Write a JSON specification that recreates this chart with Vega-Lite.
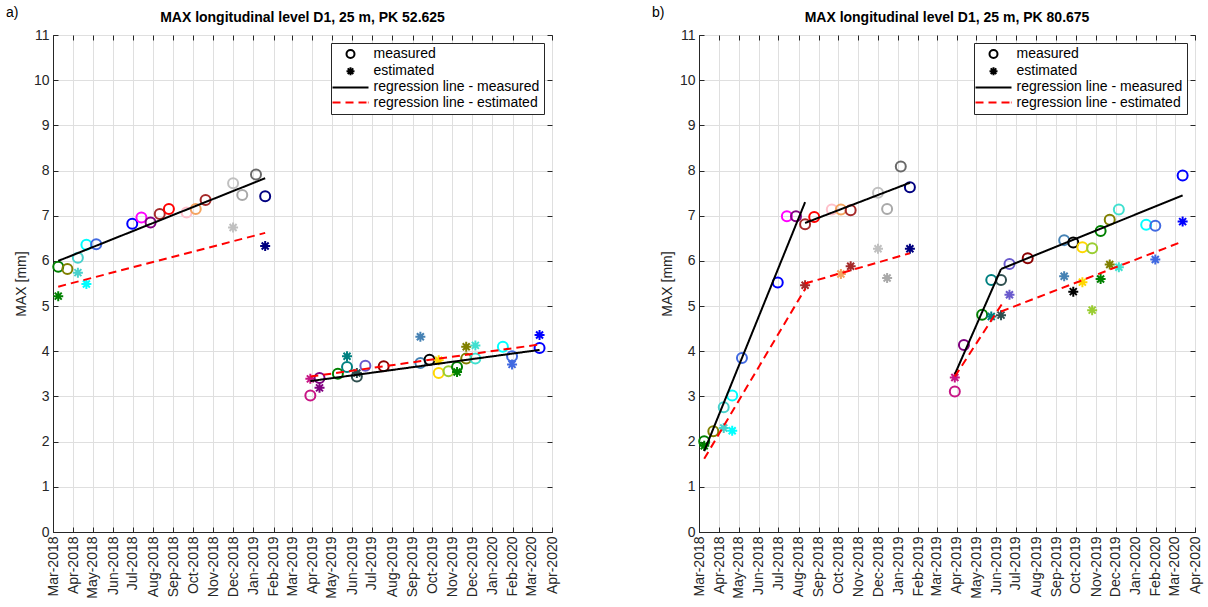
{
  "$schema": "https://vega.github.io/schema/vega-lite/v6.json",
  "background": "white",
  "padding": 5,
  "datasets": {
    "a_pts": [
      {"d": "2018-03-09", "v": 5.87, "kind": "measured", "c": "green"},
      {"d": "2018-03-09", "v": 5.22, "kind": "estimated", "c": "green"},
      {"d": "2018-03-23", "v": 5.82, "kind": "measured", "c": "olive"},
      {"d": "2018-04-08", "v": 6.07, "kind": "measured", "c": "mediumturquoise"},
      {"d": "2018-04-08", "v": 5.74, "kind": "estimated", "c": "mediumturquoise"},
      {"d": "2018-04-21", "v": 6.36, "kind": "measured", "c": "cyan"},
      {"d": "2018-04-21", "v": 5.49, "kind": "estimated", "c": "cyan"},
      {"d": "2018-05-06", "v": 6.37, "kind": "measured", "c": "royalblue"},
      {"d": "2018-06-30", "v": 6.82, "kind": "measured", "c": "blue"},
      {"d": "2018-07-14", "v": 6.96, "kind": "measured", "c": "magenta"},
      {"d": "2018-07-28", "v": 6.85, "kind": "measured", "c": "purple"},
      {"d": "2018-08-11", "v": 7.04, "kind": "measured", "c": "brown"},
      {"d": "2018-08-25", "v": 7.15, "kind": "measured", "c": "red"},
      {"d": "2018-09-21", "v": 7.07, "kind": "measured", "c": "pink"},
      {"d": "2018-10-05", "v": 7.15, "kind": "measured", "c": "sandybrown"},
      {"d": "2018-10-20", "v": 7.35, "kind": "measured", "c": "brown"},
      {"d": "2018-12-01", "v": 7.72, "kind": "measured", "c": "silver"},
      {"d": "2018-12-01", "v": 6.74, "kind": "estimated", "c": "silver"},
      {"d": "2018-12-15", "v": 7.46, "kind": "measured", "c": "darkgray"},
      {"d": "2019-01-05", "v": 7.91, "kind": "measured", "c": "dimgray"},
      {"d": "2019-01-19", "v": 7.43, "kind": "measured", "c": "navy"},
      {"d": "2019-01-19", "v": 6.33, "kind": "estimated", "c": "navy"},
      {"d": "2019-03-29", "v": 3.02, "kind": "measured", "c": "mediumvioletred"},
      {"d": "2019-03-29", "v": 3.39, "kind": "estimated", "c": "mediumvioletred"},
      {"d": "2019-04-12", "v": 3.41, "kind": "measured", "c": "purple"},
      {"d": "2019-04-12", "v": 3.19, "kind": "estimated", "c": "purple"},
      {"d": "2019-05-10", "v": 3.50, "kind": "measured", "c": "green"},
      {"d": "2019-05-24", "v": 3.65, "kind": "measured", "c": "teal"},
      {"d": "2019-05-24", "v": 3.89, "kind": "estimated", "c": "teal"},
      {"d": "2019-06-08", "v": 3.44, "kind": "measured", "c": "darkslategray"},
      {"d": "2019-06-08", "v": 3.52, "kind": "estimated", "c": "darkslategray"},
      {"d": "2019-06-21", "v": 3.68, "kind": "measured", "c": "slateblue"},
      {"d": "2019-07-19", "v": 3.67, "kind": "measured", "c": "darkred"},
      {"d": "2019-09-13", "v": 3.74, "kind": "measured", "c": "steelblue"},
      {"d": "2019-09-13", "v": 4.32, "kind": "estimated", "c": "steelblue"},
      {"d": "2019-09-27", "v": 3.81, "kind": "measured", "c": "black"},
      {"d": "2019-10-11", "v": 3.52, "kind": "measured", "c": "gold"},
      {"d": "2019-10-11", "v": 3.80, "kind": "estimated", "c": "gold"},
      {"d": "2019-10-26", "v": 3.56, "kind": "measured", "c": "yellowgreen"},
      {"d": "2019-11-08", "v": 3.65, "kind": "measured", "c": "green"},
      {"d": "2019-11-08", "v": 3.54, "kind": "estimated", "c": "green"},
      {"d": "2019-11-22", "v": 3.84, "kind": "measured", "c": "olive"},
      {"d": "2019-11-22", "v": 4.10, "kind": "estimated", "c": "olive"},
      {"d": "2019-12-06", "v": 3.84, "kind": "measured", "c": "turquoise"},
      {"d": "2019-12-06", "v": 4.13, "kind": "estimated", "c": "turquoise"},
      {"d": "2020-01-17", "v": 4.10, "kind": "measured", "c": "cyan"},
      {"d": "2020-01-31", "v": 3.89, "kind": "measured", "c": "royalblue"},
      {"d": "2020-01-31", "v": 3.71, "kind": "estimated", "c": "royalblue"},
      {"d": "2020-03-13", "v": 4.07, "kind": "measured", "c": "blue"},
      {"d": "2020-03-13", "v": 4.36, "kind": "estimated", "c": "blue"}
    ],
    "a_lines": [
      {"d": "2018-03-09", "v": 6.00, "kind": "regression line - measured", "seg": "m1"},
      {"d": "2019-01-19", "v": 7.83, "kind": "regression line - measured", "seg": "m1"},
      {"d": "2018-03-09", "v": 5.43, "kind": "regression line - estimated", "seg": "e1"},
      {"d": "2019-01-19", "v": 6.62, "kind": "regression line - estimated", "seg": "e1"},
      {"d": "2019-03-29", "v": 3.34, "kind": "regression line - measured", "seg": "m2"},
      {"d": "2020-03-13", "v": 4.03, "kind": "regression line - measured", "seg": "m2"},
      {"d": "2019-03-29", "v": 3.44, "kind": "regression line - estimated", "seg": "e2"},
      {"d": "2020-03-13", "v": 4.15, "kind": "regression line - estimated", "seg": "e2"}
    ],
    "b_pts": [
      {"d": "2018-03-09", "v": 2.01, "kind": "measured", "c": "green"},
      {"d": "2018-03-09", "v": 1.91, "kind": "estimated", "c": "green"},
      {"d": "2018-03-23", "v": 2.23, "kind": "measured", "c": "olive"},
      {"d": "2018-04-08", "v": 2.76, "kind": "measured", "c": "mediumturquoise"},
      {"d": "2018-04-08", "v": 2.30, "kind": "estimated", "c": "mediumturquoise"},
      {"d": "2018-04-21", "v": 3.02, "kind": "measured", "c": "cyan"},
      {"d": "2018-04-21", "v": 2.24, "kind": "estimated", "c": "cyan"},
      {"d": "2018-05-06", "v": 3.85, "kind": "measured", "c": "royalblue"},
      {"d": "2018-06-30", "v": 5.52, "kind": "measured", "c": "blue"},
      {"d": "2018-07-14", "v": 6.99, "kind": "measured", "c": "magenta"},
      {"d": "2018-07-28", "v": 6.99, "kind": "measured", "c": "purple"},
      {"d": "2018-08-11", "v": 6.81, "kind": "measured", "c": "brown"},
      {"d": "2018-08-11", "v": 5.46, "kind": "estimated", "c": "brown"},
      {"d": "2018-08-25", "v": 6.97, "kind": "measured", "c": "red"},
      {"d": "2018-09-21", "v": 7.14, "kind": "measured", "c": "pink"},
      {"d": "2018-10-05", "v": 7.14, "kind": "measured", "c": "sandybrown"},
      {"d": "2018-10-05", "v": 5.71, "kind": "estimated", "c": "sandybrown"},
      {"d": "2018-10-20", "v": 7.12, "kind": "measured", "c": "brown"},
      {"d": "2018-10-20", "v": 5.88, "kind": "estimated", "c": "brown"},
      {"d": "2018-12-01", "v": 7.51, "kind": "measured", "c": "silver"},
      {"d": "2018-12-01", "v": 6.27, "kind": "estimated", "c": "silver"},
      {"d": "2018-12-15", "v": 7.15, "kind": "measured", "c": "darkgray"},
      {"d": "2018-12-15", "v": 5.62, "kind": "estimated", "c": "darkgray"},
      {"d": "2019-01-05", "v": 8.09, "kind": "measured", "c": "dimgray"},
      {"d": "2019-01-19", "v": 7.63, "kind": "measured", "c": "navy"},
      {"d": "2019-01-19", "v": 6.27, "kind": "estimated", "c": "navy"},
      {"d": "2019-03-29", "v": 3.11, "kind": "measured", "c": "mediumvioletred"},
      {"d": "2019-03-29", "v": 3.42, "kind": "estimated", "c": "mediumvioletred"},
      {"d": "2019-04-12", "v": 4.14, "kind": "measured", "c": "purple"},
      {"d": "2019-05-10", "v": 4.81, "kind": "measured", "c": "green"},
      {"d": "2019-05-24", "v": 5.58, "kind": "measured", "c": "teal"},
      {"d": "2019-05-24", "v": 4.77, "kind": "estimated", "c": "teal"},
      {"d": "2019-06-08", "v": 5.58, "kind": "measured", "c": "darkslategray"},
      {"d": "2019-06-08", "v": 4.80, "kind": "estimated", "c": "darkslategray"},
      {"d": "2019-06-21", "v": 5.93, "kind": "measured", "c": "slateblue"},
      {"d": "2019-06-21", "v": 5.25, "kind": "estimated", "c": "slateblue"},
      {"d": "2019-07-19", "v": 6.06, "kind": "measured", "c": "darkred"},
      {"d": "2019-09-13", "v": 6.46, "kind": "measured", "c": "steelblue"},
      {"d": "2019-09-13", "v": 5.66, "kind": "estimated", "c": "steelblue"},
      {"d": "2019-09-27", "v": 6.41, "kind": "measured", "c": "black"},
      {"d": "2019-09-27", "v": 5.32, "kind": "estimated", "c": "black"},
      {"d": "2019-10-11", "v": 6.30, "kind": "measured", "c": "gold"},
      {"d": "2019-10-11", "v": 5.53, "kind": "estimated", "c": "gold"},
      {"d": "2019-10-26", "v": 6.28, "kind": "measured", "c": "yellowgreen"},
      {"d": "2019-10-26", "v": 4.91, "kind": "estimated", "c": "yellowgreen"},
      {"d": "2019-11-08", "v": 6.66, "kind": "measured", "c": "green"},
      {"d": "2019-11-08", "v": 5.60, "kind": "estimated", "c": "green"},
      {"d": "2019-11-22", "v": 6.91, "kind": "measured", "c": "olive"},
      {"d": "2019-11-22", "v": 5.92, "kind": "estimated", "c": "olive"},
      {"d": "2019-12-06", "v": 7.14, "kind": "measured", "c": "turquoise"},
      {"d": "2019-12-06", "v": 5.86, "kind": "estimated", "c": "turquoise"},
      {"d": "2020-01-17", "v": 6.80, "kind": "measured", "c": "cyan"},
      {"d": "2020-01-31", "v": 6.78, "kind": "measured", "c": "royalblue"},
      {"d": "2020-01-31", "v": 6.03, "kind": "estimated", "c": "royalblue"},
      {"d": "2020-03-13", "v": 7.89, "kind": "measured", "c": "blue"},
      {"d": "2020-03-13", "v": 6.87, "kind": "estimated", "c": "blue"}
    ],
    "b_lines": [
      {"d": "2018-03-09", "v": 1.79, "kind": "regression line - measured", "seg": "m1"},
      {"d": "2018-08-11", "v": 7.30, "kind": "regression line - measured", "seg": "m1"},
      {"d": "2018-08-11", "v": 6.84, "kind": "regression line - measured", "seg": "m2"},
      {"d": "2019-01-19", "v": 7.73, "kind": "regression line - measured", "seg": "m2"},
      {"d": "2018-03-09", "v": 1.62, "kind": "regression line - estimated", "seg": "e1"},
      {"d": "2018-08-11", "v": 5.38, "kind": "regression line - estimated", "seg": "e1"},
      {"d": "2018-08-11", "v": 5.50, "kind": "regression line - estimated", "seg": "e2"},
      {"d": "2019-01-19", "v": 6.17, "kind": "regression line - estimated", "seg": "e2"},
      {"d": "2019-03-29", "v": 3.49, "kind": "regression line - measured", "seg": "m3"},
      {"d": "2019-06-08", "v": 5.82, "kind": "regression line - measured", "seg": "m3"},
      {"d": "2019-06-08", "v": 5.82, "kind": "regression line - measured", "seg": "m4"},
      {"d": "2020-03-13", "v": 7.45, "kind": "regression line - measured", "seg": "m4"},
      {"d": "2019-03-29", "v": 3.44, "kind": "regression line - estimated", "seg": "e3"},
      {"d": "2019-06-10", "v": 5.06, "kind": "regression line - estimated", "seg": "e3"},
      {"d": "2019-06-08", "v": 4.88, "kind": "regression line - estimated", "seg": "e4"},
      {"d": "2020-03-13", "v": 6.43, "kind": "regression line - estimated", "seg": "e4"}
    ]
  },
  "hconcat": [
    {
      "title": {"text": "a)", "anchor": "start", "offset": -9, "dx": -8, "fontSize": 14, "fontWeight": "normal", "color": "black"},
      "resolve": {"scale": {"shape": "independent", "color": "independent"}, "legend": {"shape": "independent", "color": "independent"}},
      "vconcat": [
        {
          "width": 499,
          "height": 497,
          "title": {"text": "MAX longitudinal level D1, 25 m, PK 52.625", "offset": 3},
          "layer": [
            {
              "data": {"name": "a_pts"},
              "mark": {"type": "point", "filled": false, "strokeWidth": 2, "opacity": 1},
              "encoding": {
                "x": {"field": "d", "type": "temporal", "scale": {"type": "utc", "domain": [{"year": 2018, "month": 3, "date": 1, "utc": true}, {"year": 2020, "month": 4, "date": 1, "utc": true}]}, "axis": {"orient": "bottom", "title": null, "format": "%b-%Y", "labelAngle": -90, "tickCount": {"interval": "month", "step": 1}, "grid": true}},
                "y": {"field": "v", "type": "quantitative", "scale": {"domain": [0, 11], "nice": false}, "axis": {"orient": "left", "title": "MAX [mm]", "values": [0,1,2,3,4,5,6,7,8,9,10,11], "grid": true}},
                "shape": {"field": "kind", "type": "nominal",
                  "scale": {"domain": ["measured", "estimated", "regression line - measured", "regression line - estimated"],
                            "range": ["circle", "M-1,0H1M0,-1V1M-0.7,-0.7L0.7,0.7M-0.7,0.7L0.7,-0.7", "M-4.5,0H4.5", "M-4.5,0H-2.5M-1.25,0H0.75M2,0H4M4.35,0H4.5"]},
                  "legend": {"orient": "top-right", "offset": 8, "title": null, "fillColor": "white", "strokeColor": "#262626", "padding": 4, "labelFontSize": 14, "labelLimit": 400, "labelFont": "Liberation Sans", "labelColor": "black", "symbolSize": 64, "symbolStrokeWidth": 2, "symbolOffset": 8.5, "labelOffset": 16, "rowPadding": 1.2, "symbolStrokeColor": {"expr": "datum.value === 'regression line - estimated' ? 'red' : 'black'"}}},
                "color": {"field": "kind", "type": "nominal",
                  "scale": {"domain": ["measured", "estimated", "regression line - measured", "regression line - estimated"], "range": ["black", "black", "black", "red"]},
                  "legend": {"orient": "top-right", "offset": 8, "title": null, "fillColor": "white", "strokeColor": "#262626", "padding": 4, "labelFontSize": 14, "labelLimit": 400, "labelFont": "Liberation Sans", "labelColor": "black", "symbolSize": 64, "symbolStrokeWidth": 2, "symbolOffset": 8.5, "labelOffset": 16, "rowPadding": 1.2, "symbolStrokeColor": {"expr": "datum.value === 'regression line - estimated' ? 'red' : 'black'"}}},
                "stroke": {"field": "c", "type": "nominal", "scale": null},
                "size": {"value": 100}
              }
            },
            {
              "data": {"name": "a_lines"},
              "mark": {"type": "line", "strokeWidth": 2},
              "encoding": {
                "x": {"field": "d", "type": "temporal", "axis": {"orient": "top", "labels": false, "title": null, "grid": false, "domain": false, "tickCount": {"interval": "month", "step": 1}}},
                "y": {"field": "v", "type": "quantitative", "axis": {"orient": "right", "labels": false, "title": null, "grid": false, "domain": false, "values": [0,1,2,3,4,5,6,7,8,9,10,11]}},
                "detail": {"field": "seg", "type": "nominal"},
                "stroke": {"condition": {"test": "datum.kind === 'regression line - estimated'", "value": "red"}, "value": "black"},
                "strokeDash": {"condition": {"test": "datum.kind === 'regression line - estimated'", "value": [8, 5]}, "value": [1, 0]}
              }
            }
          ]
        }
      ]
    },
    {
      "title": {"text": "b)", "anchor": "start", "offset": -9, "dx": -8, "fontSize": 14, "fontWeight": "normal", "color": "black"},
      "resolve": {"scale": {"shape": "independent", "color": "independent"}, "legend": {"shape": "independent", "color": "independent"}},
      "vconcat": [
        {
          "width": 496,
          "height": 497,
          "title": {"text": "MAX longitudinal level D1, 25 m, PK 80.675", "offset": 3},
          "layer": [
            {
              "data": {"name": "b_pts"},
              "mark": {"type": "point", "filled": false, "strokeWidth": 2, "opacity": 1},
              "encoding": {
                "x": {"field": "d", "type": "temporal", "scale": {"type": "utc", "domain": [{"year": 2018, "month": 3, "date": 1, "utc": true}, {"year": 2020, "month": 4, "date": 1, "utc": true}]}, "axis": {"orient": "bottom", "title": null, "format": "%b-%Y", "labelAngle": -90, "tickCount": {"interval": "month", "step": 1}, "grid": true}},
                "y": {"field": "v", "type": "quantitative", "scale": {"domain": [0, 11], "nice": false}, "axis": {"orient": "left", "title": "MAX [mm]", "values": [0,1,2,3,4,5,6,7,8,9,10,11], "grid": true}},
                "shape": {"field": "kind", "type": "nominal",
                  "scale": {"domain": ["measured", "estimated", "regression line - measured", "regression line - estimated"],
                            "range": ["circle", "M-1,0H1M0,-1V1M-0.7,-0.7L0.7,0.7M-0.7,0.7L0.7,-0.7", "M-4.5,0H4.5", "M-4.5,0H-2.5M-1.25,0H0.75M2,0H4M4.35,0H4.5"]},
                  "legend": {"orient": "top-right", "offset": 8, "title": null, "fillColor": "white", "strokeColor": "#262626", "padding": 4, "labelFontSize": 14, "labelLimit": 400, "labelFont": "Liberation Sans", "labelColor": "black", "symbolSize": 64, "symbolStrokeWidth": 2, "symbolOffset": 8.5, "labelOffset": 16, "rowPadding": 1.2, "symbolStrokeColor": {"expr": "datum.value === 'regression line - estimated' ? 'red' : 'black'"}}},
                "color": {"field": "kind", "type": "nominal",
                  "scale": {"domain": ["measured", "estimated", "regression line - measured", "regression line - estimated"], "range": ["black", "black", "black", "red"]},
                  "legend": {"orient": "top-right", "offset": 8, "title": null, "fillColor": "white", "strokeColor": "#262626", "padding": 4, "labelFontSize": 14, "labelLimit": 400, "labelFont": "Liberation Sans", "labelColor": "black", "symbolSize": 64, "symbolStrokeWidth": 2, "symbolOffset": 8.5, "labelOffset": 16, "rowPadding": 1.2, "symbolStrokeColor": {"expr": "datum.value === 'regression line - estimated' ? 'red' : 'black'"}}},
                "stroke": {"field": "c", "type": "nominal", "scale": null},
                "size": {"value": 100}
              }
            },
            {
              "data": {"name": "b_lines"},
              "mark": {"type": "line", "strokeWidth": 2},
              "encoding": {
                "x": {"field": "d", "type": "temporal", "axis": {"orient": "top", "labels": false, "title": null, "grid": false, "domain": false, "tickCount": {"interval": "month", "step": 1}}},
                "y": {"field": "v", "type": "quantitative", "axis": {"orient": "right", "labels": false, "title": null, "grid": false, "domain": false, "values": [0,1,2,3,4,5,6,7,8,9,10,11]}},
                "detail": {"field": "seg", "type": "nominal"},
                "stroke": {"condition": {"test": "datum.kind === 'regression line - estimated'", "value": "red"}, "value": "black"},
                "strokeDash": {"condition": {"test": "datum.kind === 'regression line - estimated'", "value": [8, 5]}, "value": [1, 0]}
              }
            }
          ]
        }
      ]
    }
  ],
  "spacing": 91,
  "resolve": {"scale": {"shape": "independent", "color": "independent"}, "legend": {"shape": "independent", "color": "independent"}},
  "config": {
    "font": "Liberation Sans",
    "view": {"stroke": "#262626", "strokeWidth": 1},
    "axis": {"labelFont": "Liberation Sans", "labelFontSize": 14, "labelColor": "#262626", "titleFont": "Liberation Sans", "titleFontSize": 14, "titleFontWeight": "normal", "titleColor": "#262626", "titlePadding": 5, "domainColor": "#262626", "tickColor": "#262626", "gridColor": "#dfdfdf", "tickSize": -5, "labelPadding": 9},
    "title": {"font": "Liberation Sans", "fontSize": 14, "fontWeight": "bold", "color": "black"}
  }
}
